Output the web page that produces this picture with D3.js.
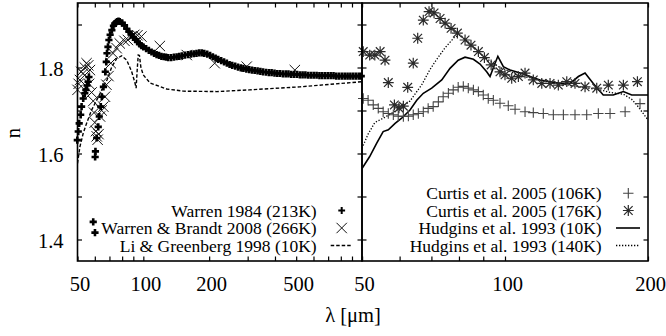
<!DOCTYPE html>
<html><head><meta charset="utf-8">
<script src="https://cdn.jsdelivr.net/npm/d3@7"></script>
<style>
html,body{margin:0;background:#fff}
svg{display:block}
svg text{font-family:"Liberation Serif","DejaVu Serif","Times New Roman",Times,serif;fill:#000}
</style>
</head><body><svg id="chart" width="666" height="336"></svg>
<script>
// ---- data: wavelength [um], refractive index n ----
const warren1984 = [
  [49.9,1.631],[50.4,1.651],[50.9,1.670],[51.7,1.690],[52.2,1.709],[53.1,1.728],[54.0,1.740],[54.6,1.748],
  [55.3,1.758],[55.9,1.767],[56.4,1.778],[59.0,1.441],[60.1,1.416],[60.2,1.592],[60.4,1.605],
  [61.2,1.636],[62.2,1.662],[62.9,1.686],[63.9,1.709],[64.6,1.732],[65.7,1.755],[67.0,1.790],[67.7,1.813],
  [68.2,1.833],[68.9,1.848],[69.6,1.864],[70.5,1.876],[71.8,1.887],[73.0,1.897],[74.0,1.902],[75.0,1.905],
  [76.0,1.907],[77.0,1.908],[78,1.907],[80,1.904],[82,1.898],[84,1.890],[86,1.883],[88,1.877],[90,1.870],
  [92,1.865],[94,1.860],[96,1.855],[98,1.851],[100,1.848],[103,1.844],[106,1.840],[109,1.836],[112,1.833],
  [115,1.830],[118,1.828],[121,1.826],[124,1.825],[127,1.824],[130,1.823],[134,1.823],[138,1.824],
  [142,1.825],[146,1.826],[150,1.827],[155,1.829],[160,1.830],[165,1.831],[170,1.832],[175,1.833],
  [180,1.834],[185,1.834],[190,1.833],[196,1.831],[202,1.828],[208,1.825],[214,1.822],[220,1.819],
  [227,1.816],[234,1.813],[241,1.810],[248,1.807],[255,1.805],[263,1.803],[271,1.801],[279,1.799],
  [287,1.798],[296,1.796],[305,1.795],[314,1.794],[323,1.793],[333,1.792],[343,1.791],[353,1.790],
  [364,1.789],[375,1.788],[386,1.788],[398,1.787],[410,1.786],[422,1.786],[435,1.785],[448,1.785],
  [461,1.785],[475,1.784],[490,1.784],[505,1.784],[520,1.783],[535,1.783],[551,1.783],[568,1.782],
  [585,1.782],[602,1.782],[620,1.782],[639,1.781],[658,1.781],[678,1.781],[698,1.781],[719,1.781],
  [741,1.781],[763,1.780],[786,1.780],[810,1.780],[834,1.780],[859,1.780],[885,1.780],[912,1.780],
  [939,1.780],[967,1.780],[992,1.780]
];
const warrenBrandt2008 = [
  [50.0,1.748],[50.6,1.762],[51.3,1.771],[52.0,1.790],[53.0,1.786],[54.0,1.800],[55.0,1.810],[56.0,1.805],
  [57.0,1.794],[56.5,1.762],[58.0,1.742],[59.0,1.722],[59.5,1.695],[60.0,1.672],[60.7,1.652],[61.2,1.640],
  [61.8,1.632],[62.4,1.645],[63.4,1.686],[64.5,1.700],[65.6,1.709],[66.8,1.732],[67.8,1.760],[69.3,1.780],
  [71.0,1.810],[72.7,1.833],[75.5,1.845],[78.0,1.856],[82.0,1.862],[85.0,1.864],[88.0,1.872],[91.0,1.876],
  [94.0,1.875],[98.0,1.872],[119,1.850],[158,1.829],[212,1.810],[297,1.802],[493,1.794]
];
const liGreenberg1998 = [
  [50,1.577],[51.3,1.616],[53.1,1.647],[55.0,1.670],[58.0,1.701],[61.2,1.724],[64.6,1.748],[68.2,1.771],
  [71.8,1.802],[75.6,1.821],[79.6,1.827],[84.0,1.817],[88.5,1.790],[91.5,1.765],[92.7,1.752],[93.9,1.800],
  [94.8,1.829],[96.0,1.828],[97.5,1.800],[99.9,1.783],[107.3,1.764],[127.8,1.750],[152.5,1.745],
  [216.5,1.744],[306,1.748],[520,1.755],[1000,1.767]
];
const curtis106 = [
  [50.3,1.728],[51.5,1.724],[52.8,1.713],[54.1,1.705],[55.4,1.697],[56.8,1.693],[58.2,1.690],[59.6,1.687],
  [61.1,1.686],[62.6,1.687],[64.1,1.690],[65.7,1.693],[67.3,1.697],[68.9,1.705],[70.6,1.709],[72.4,1.720],
  [74.1,1.732],[76.0,1.740],[77.8,1.748],[79.7,1.754],[81.7,1.756],[83.7,1.752],[85.8,1.748],[87.9,1.744],
  [90.0,1.736],[92.2,1.728],[94.5,1.724],[97.6,1.717],[101.6,1.711],[105.0,1.703],[110.2,1.697],
  [114.7,1.695],[120.4,1.693],[126.4,1.690],[132.7,1.690],[140.4,1.690],[148.6,1.690],[157.2,1.693],
  [166.4,1.693],[179.0,1.697],[192.4,1.716]
];
const curtis176 = [
  [50.3,1.837],[51.9,1.829],[53.2,1.829],[54.6,1.837],[55.9,1.817],[56.8,1.765],[58.5,1.713],[59.8,1.706],
  [61.1,1.710],[62.4,1.754],[64.1,1.810],[65.5,1.868],[67.3,1.910],[69.2,1.930],[70.9,1.927],[73.0,1.914],
  [74.8,1.903],[77.0,1.891],[79.4,1.880],[82.4,1.864],[84.8,1.852],[87.9,1.837],[90.5,1.823],[93.5,1.806],
  [97.6,1.790],[100,1.783],[103.3,1.775],[106.7,1.779],[110.2,1.787],[114.7,1.771],[119.5,1.763],
  [124.4,1.763],[129.5,1.759],[134.9,1.767],[140.4,1.763],[147.4,1.755],[156,1.752],[165,1.759],
  [177.5,1.759],[190,1.767]
];
const hudgins10 = [
  [50,1.565],[51.9,1.593],[53.7,1.624],[55.4,1.651],[56.8,1.655],[58.7,1.670],[60.6,1.682],[63.1,1.701],
  [65.2,1.724],[67.3,1.740],[70.1,1.752],[73.6,1.771],[76.6,1.798],[79.7,1.817],[82.4,1.824],[85.8,1.819],
  [88.6,1.808],[91.5,1.790],[93.0,1.779],[95.3,1.810],[96.6,1.826],[99.2,1.802],[102.5,1.794],[107.6,1.787],
  [112.9,1.779],[118.5,1.771],[124.4,1.767],[130.6,1.763],[137.1,1.763],[142.7,1.779],[147.4,1.787],
  [153.4,1.763],[161,1.736],[169,1.736],[177.5,1.744],[184.8,1.736],[200,1.736]
];
const hudgins140 = [
  [50,1.612],[51.5,1.645],[53.2,1.672],[55.4,1.682],[60.1,1.705],[63.1,1.722],[66.8,1.760],[69.5,1.795],
  [71.2,1.813],[74.8,1.846],[78.2,1.870],[80.4,1.876],[84.4,1.856],[88.6,1.833],[93.0,1.815],[97.6,1.800],
  [107.6,1.781],[118.5,1.771],[130.6,1.763],[142.7,1.755],[158.5,1.748],[166.4,1.742],[177.5,1.738],
  [184.8,1.726],[189.4,1.713],[192.4,1.703],[198.8,1.682],[200,1.678]
];

const yTicks = [1.4, 1.5, 1.6, 1.7, 1.8, 1.9];
const yTickLabels = [1.4, 1.6, 1.8];
const xTicksLeft = [50, 60, 70, 80, 90, 100, 200, 300, 400, 500, 600, 700, 800, 900, 1000];
const xTickLabelsLeft = [50, 100, 200, 500];
const xTicksRight = [50, 60, 70, 80, 90, 100, 200];
const xTickLabelsRight = [50, 100, 200];

const legendLeft = ["Warren 1984 (213K)", "Warren & Brandt 2008 (266K)", "Li & Greenberg 1998 (10K)"];
const legendRight = ["Curtis et al. 2005 (106K)", "Curtis et al. 2005 (176K)", "Hudgins et al. 1993 (10K)", "Hudgins et al. 1993 (140K)"];

// ---- layout ----
const plotTop = 3, plotBottom = 261;
const svg = d3.select("#chart");
const y = d3.scaleLinear().domain([1.35, 1.95]).range([plotBottom, plotTop]);
const xL = d3.scaleLog().domain([50, 1000]).range([77.5, 362]);
const xR = d3.scaleLog().domain([50, 200]).range([362, 648]);

// marker path builders
const plusPath = s => `M${-s},0H${s}M0,${-s}V${s}`;
const crossPath = s => `M${-s},${-s}L${s},${s}M${-s},${s}L${s},${-s}`;
const starPath = s => plusPath(s) + crossPath(s * 0.8);

function drawPanel(id, x, ticksX, labelsX, showY) {
  const [x0, x1] = x.range();
  const g = svg.append("g").attr("class", "panel-" + id);
  svg.append("clipPath").attr("id", "clip-" + id)
    .append("rect").attr("x", x0).attr("y", plotTop).attr("width", x1 - x0).attr("height", plotBottom - plotTop);

  // x axes (bottom and top mirror), ticks pointing inward
  const fmtX = d => labelsX.includes(d) ? String(d) : "";
  const axB = g.append("g").attr("transform", `translate(0,${plotBottom})`)
    .call(d3.axisBottom(x).tickValues(ticksX).tickSizeInner(-4.5).tickSizeOuter(0).tickPadding(0).tickFormat(fmtX));
  axB.attr("font-family", null);
  axB.select(".domain").remove();
  axB.selectAll("text").attr("y", 30).attr("dx", 2).attr("dy", 0).style("font-size", "20.5px");
  const axT = g.append("g").attr("transform", `translate(0,${plotTop})`)
    .call(d3.axisTop(x).tickValues(ticksX).tickSizeInner(-4.5).tickSizeOuter(0).tickFormat(""));
  axT.select(".domain").remove();

  // y axes (left and right), ticks pointing inward
  const axL = g.append("g").attr("transform", `translate(${x0},0)`)
    .call(d3.axisLeft(y).tickValues(yTicks).tickSizeInner(-4.5).tickSizeOuter(0).tickPadding(0)
      .tickFormat(d => showY && yTickLabels.includes(d) ? d.toFixed(1) : ""));
  axL.attr("font-family", null);
  axL.select(".domain").remove();
  axL.selectAll("text").attr("x", -14).attr("dy", 8).attr("text-anchor", "end").style("font-size", "20.5px");
  const axRt = g.append("g").attr("transform", `translate(${x1},0)`)
    .call(d3.axisRight(y).tickValues(yTicks).tickSizeInner(-4.5).tickSizeOuter(0).tickFormat(""));
  axRt.select(".domain").remove();
  g.selectAll(".tick line").attr("stroke", "#000").attr("stroke-width", 1.2);

  return {g, clip: `url(#clip-${id})`, x};
}

function drawLine(p, data, dash, width) {
  p.g.append("path").datum(data)
    .attr("clip-path", p.clip)
    .attr("fill", "none").attr("stroke", "#000").attr("stroke-width", width)
    .attr("stroke-dasharray", dash)
    .attr("d", d3.line().x(d => p.x(d[0])).y(d => y(d[1])));
}
function drawMarks(p, data, pathStr, color, width) {
  p.g.append("g").selectAll("path").data(data).join("path")
    .attr("transform", d => `translate(${p.x(d[0])},${y(d[1])})`)
    .attr("d", pathStr).attr("fill", "none").attr("stroke", color).attr("stroke-width", width);
}

// ---- left panel ----
const left = drawPanel("L", xL, xTicksLeft, xTickLabelsLeft, true);
drawLine(left, liGreenberg1998, "3.5,2", 1.4);
drawMarks(left, warrenBrandt2008, crossPath(5.2), "#111", 1);
drawMarks(left, warren1984, plusPath(3.6), "#000", 2.6);

// ---- right panel ----
const right = drawPanel("R", xR, xTicksRight, xTickLabelsRight, false);
drawLine(right, hudgins140, "1.3,1.7", 1.3);
drawLine(right, hudgins10, null, 1.6);
drawMarks(right, curtis106, plusPath(5.2), "#444", 1.1);
drawMarks(right, curtis176, starPath(5.4), "#2a2a2a", 1.2);

// frames
[left, right].forEach(p => {
  const [a, b] = p.x.range();
  svg.append("rect").attr("x", a).attr("y", plotTop).attr("width", b - a).attr("height", plotBottom - plotTop)
    .attr("fill", "none").attr("stroke", "#000").attr("stroke-width", 1.6);
});

// ---- legends ----
const legFont = "17.5px";
function legendRow(textX, cy, label) {
  svg.append("text").attr("x", textX).attr("y", cy + 6).attr("text-anchor", "end")
    .style("font-size", legFont).text(label);
}
const rowL = [210.5, 228, 245.5];
legendLeft.forEach((t, i) => legendRow(316.7, rowL[i], t));
svg.append("path").attr("transform", `translate(341.7,${rowL[0]})`).attr("d", plusPath(3.4))
  .attr("stroke", "#000").attr("stroke-width", 2).attr("fill", "none");
svg.append("path").attr("transform", `translate(341.7,${rowL[1]})`).attr("d", crossPath(5.2))
  .attr("stroke", "#111").attr("stroke-width", 1).attr("fill", "none");
svg.append("line").attr("x1", 330.7).attr("x2", 352.7).attr("y1", rowL[2]).attr("y2", rowL[2])
  .attr("stroke", "#000").attr("stroke-width", 1.4).attr("stroke-dasharray", "3.5,2");

const rowR = [193.2, 210.5, 228, 245.5];
legendRight.forEach((t, i) => legendRow(601.7, rowR[i], t));
svg.append("path").attr("transform", `translate(628.3,${rowR[0]})`).attr("d", plusPath(5.2))
  .attr("stroke", "#444").attr("stroke-width", 1.1).attr("fill", "none");
svg.append("path").attr("transform", `translate(628.3,${rowR[1]})`).attr("d", starPath(5.4))
  .attr("stroke", "#2a2a2a").attr("stroke-width", 1.2).attr("fill", "none");
svg.append("line").attr("x1", 616).attr("x2", 640).attr("y1", rowR[2]).attr("y2", rowR[2])
  .attr("stroke", "#000").attr("stroke-width", 1.6);
svg.append("line").attr("x1", 616).attr("x2", 640).attr("y1", rowR[3]).attr("y2", rowR[3])
  .attr("stroke", "#000").attr("stroke-width", 1.3).attr("stroke-dasharray", "1.3,1.7");

// ---- axis titles ----
svg.append("text").attr("transform", `translate(20,133) rotate(-90)`).attr("text-anchor", "middle")
  .style("font-size", "20.5px").text("n");
svg.append("text").attr("x", 353).attr("y", 322).attr("text-anchor", "middle")
  .style("font-size", "20.5px").text("λ [μm]");
</script></body></html>
